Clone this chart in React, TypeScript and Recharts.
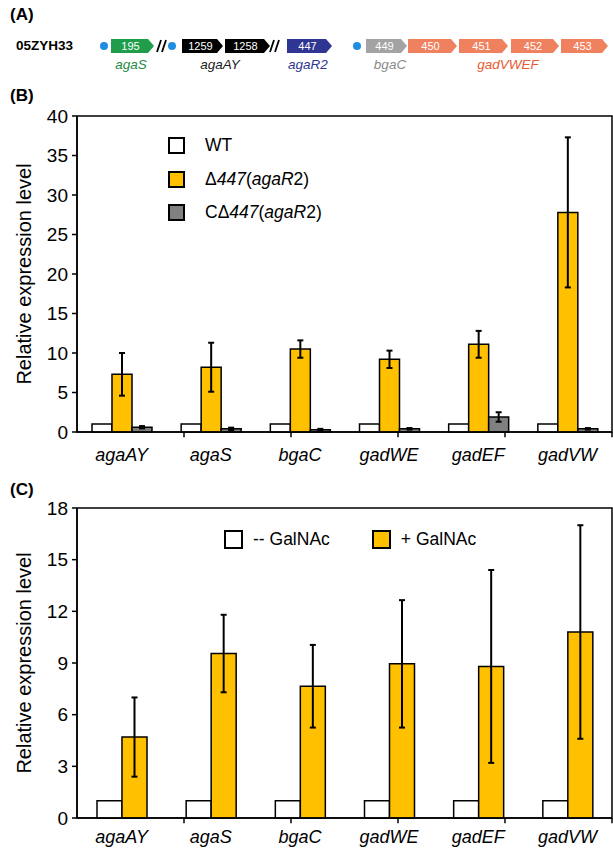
import React from 'react'
import {
  BarChart,
  Bar,
  ComposedChart,
  Scatter,
  XAxis,
  YAxis,
  ErrorBar,
  Legend,
  Label,
  ReferenceArea,
  ReferenceDot,
  ReferenceLine,
} from 'recharts'

// Figure: agaR2 deletion / GalNAc induction, qRT-PCR. Flat Excel-like look.

const FONT = '"Liberation Sans", Arial, sans-serif'
const INK = '#000000'
const WHITE = '#ffffff'
const GOLD = '#ffc000'
const GREY = '#808080'

// (A) gene map, positions along the drawn locus
const genes = ['195', '1259', '1258', '447', '449', '450', '451', '452', '453']
const geneStart = [111, 182, 225, 287, 366, 408, 459, 511, 561]
const geneEnd = [154, 223, 270, 332, 407, 457, 508, 559, 608]
const geneGroup = [0, 1, 1, 2, 3, 4, 4, 4, 4]
const groupNames = ['agaS', 'agaAY', 'agaR2', 'bgaC', 'gadVWEF']
const groupMid = [131, 220, 308, 390, 508]
const promoters = [104, 172, 357]
const breaks = [162, 275]

const groupFill = ['#1f9d4b', '#000000', '#2e3592', '#a3a3a3', '#f0815f']
const groupText = ['#238a3f', '#1a1a1a', '#2e3592', '#8a8a8a', '#e85a32']

// (B) WT vs deletion vs complemented
const genesB = ['agaAY', 'agaS', 'bgaC', 'gadWE', 'gadEF', 'gadVW']
const wtB = [1, 1, 1, 1, 1, 1]
const mutB = [7.3, 8.2, 10.5, 9.2, 11.1, 27.8]
const mutErrB = [2.7, 3.1, 1.1, 1.1, 1.7, 9.5]
const compB = [0.6, 0.4, 0.3, 0.4, 1.9, 0.4]
const compErrB = [0.15, 0.15, 0.1, 0.1, 0.6, 0.1]
const ticksB = [0, 5, 10, 15, 20, 25, 30, 35, 40]

// (C) -/+ GalNAc
const genesC = ['agaAY', 'agaS', 'bgaC', 'gadWE', 'gadEF', 'gadVW']
const minusC = [1, 1, 1, 1, 1, 1]
const plusC = [4.7, 9.55, 7.65, 8.95, 8.8, 10.8]
const plusErrC = [2.3, 2.25, 2.4, 3.7, 5.6, 6.2]
const ticksC = [0, 3, 6, 9, 12, 15, 18]

const seriesOrder = ['wt', 'mut', 'comp', 'minus', 'plus']

const legendText: Record<string, React.ReactNode> = {
  'Δ447(agaR2)': (
    <>
      Δ<i>447</i>(<i>agaR</i>2)
    </>
  ),
  'CΔ447(agaR2)': (
    <>
      CΔ<i>447</i>(<i>agaR</i>2)
    </>
  ),
}

const axisLine = { stroke: INK, strokeWidth: 1.5 }

function GeneArrow(props: any) {
  const { x, y, width, height, fill } = props
  const tip = 6
  const d = `M${x},${y} H${x + width - tip} L${x + width},${y + height / 2} L${x + width - tip},${y + height} H${x} Z`
  return <path d={d} fill={fill} stroke="none" />
}

function BreakMark({ cx, cy }: any) {
  return (
    <g stroke={INK} strokeWidth={1.8}>
      <line x1={cx - 5} y1={cy + 6} x2={cx - 1} y2={cy - 6} />
      <line x1={cx} y1={cy + 6} x2={cx + 4} y2={cy - 6} />
    </g>
  )
}

function GeneMap() {
  const promoterData = promoters.map((x) => ({ x, y: 6 }))
  return (
    <ComposedChart width={613} height={50} margin={{ top: 0, right: 0, bottom: 0, left: 0 }}>
      <XAxis type="number" dataKey="x" domain={[0, 613]} allowDataOverflow hide />
      <YAxis type="number" dataKey="y" domain={[0, 10]} allowDataOverflow hide />
      {genes.map((g, i) => (
        <ReferenceArea
          key={g}
          x1={geneStart[i]}
          x2={geneEnd[i]}
          y1={4.6}
          y2={7.4}
          fill={groupFill[geneGroup[i]]}
          fillOpacity={1}
          ifOverflow="visible"
          shape={GeneArrow}
          label={{ value: g, position: 'center', fill: '#ffffff', fontSize: 11, dx: -2 }}
        />
      ))}
      <Scatter
        data={promoterData}
        fill="#1e8fe0"
        isAnimationActive={false}
        shape={(p: any) => <circle cx={p.cx} cy={p.cy} r={4} fill="#1e8fe0" />}
      />
      {breaks.map((b) => (
        <ReferenceDot key={b} x={b} y={6} r={0} ifOverflow="visible" shape={BreakMark} />
      ))}
      {groupNames.map((name, i) => (
        <ReferenceDot
          key={name}
          x={groupMid[i]}
          y={2.4}
          r={0}
          ifOverflow="visible"
          shape={(p: any) => (
            <text
              x={p.cx}
              y={p.cy}
              textAnchor="middle"
              dominantBaseline="central"
              fontSize={13.5}
              fontStyle="italic"
              fill={groupText[i]}
            >
              {name}
            </text>
          )}
        />
      ))}
    </ComposedChart>
  )
}

function CategoryTick({ x, y, payload }: any) {
  return (
    <text x={x} y={y} dy="0.71em" textAnchor="middle" fontSize={18} fontStyle="italic" fill={INK}>
      {payload.value}
    </text>
  )
}

// short tick marks at category boundaries, on a hidden 0..n axis
function boundaryTicks(n: number, len: number) {
  return Array.from({ length: n - 1 }, (_, i) => (
    <ReferenceLine
      key={`edge-${i}`}
      xAxisId="edge"
      segment={[
        { x: i + 1, y: 0 },
        { x: i + 1, y: -len },
      ]}
      stroke={INK}
      strokeWidth={1.5}
      ifOverflow="visible"
    />
  ))
}

function YTitle({ viewBox }: any) {
  const cx = viewBox.x + 24
  const cy = viewBox.y + viewBox.height / 2
  return (
    <text
      x={cx}
      y={cy}
      transform={`rotate(-90 ${cx} ${cy})`}
      textAnchor="middle"
      dominantBaseline="central"
      fontSize={20}
      fill={INK}
    >
      Relative expression level
    </text>
  )
}

function BoxLegend({ payload, row, vertical, box, gapText, gapItem }: any) {
  const items = [...(payload || [])].sort(
    (a: any, b: any) => seriesOrder.indexOf(a.dataKey) - seriesOrder.indexOf(b.dataKey),
  )
  return (
    <div style={{ display: 'flex', flexDirection: vertical ? 'column' : 'row', fontSize: 17.5, color: INK }}>
      {items.map((e: any) => (
        <div
          key={e.value}
          style={{ display: 'flex', alignItems: 'center', height: row, marginRight: vertical ? 0 : gapItem, whiteSpace: 'nowrap' }}
        >
          <span
            style={{
              width: box,
              height: box,
              boxSizing: 'border-box',
              border: `2px solid ${INK}`,
              background: e.color,
              marginRight: gapText,
            }}
          />
          <span>{legendText[e.value] ?? e.value}</span>
        </div>
      ))}
    </div>
  )
}

function DeletionChart() {
  const data = genesB.map((gene, i) => ({
    gene,
    wt: wtB[i],
    mut: mutB[i],
    mutErr: mutErrB[i],
    comp: compB[i],
    compErr: compErrB[i],
  }))
  return (
    <BarChart
      width={613}
      height={372}
      data={data}
      margin={{ top: 16, right: 1, bottom: 0, left: 0 }}
      barSize={20}
      barGap={0}
    >
      <XAxis
        dataKey="gene"
        interval={0}
        tickLine={false}
        tickSize={5}
        tickMargin={11}
        height={40}
        axisLine={axisLine}
        tick={<CategoryTick />}
      />
      <XAxis xAxisId="edge" type="number" domain={[0, genesB.length]} allowDataOverflow hide />
      <YAxis
        domain={[0, 40]}
        ticks={ticksB}
        interval={0}
        width={77}
        tickSize={5}
        tickMargin={4}
        tick={{ fontSize: 19, fill: INK }}
        tickLine={axisLine}
        axisLine={axisLine}
      >
        <Label content={YTitle} />
      </YAxis>
      <ReferenceArea y1={0} y2={40} fill="none" stroke={INK} strokeWidth={1.5} ifOverflow="visible" />
      {boundaryTicks(genesB.length, 0.65)}
      <Legend
        layout="vertical"
        align="center"
        verticalAlign="middle"
        wrapperStyle={{ left: 168, top: 29, width: 'auto' }}
        content={<BoxLegend row={33.5} vertical box={17} gapText={20} />}
      />
      <Bar dataKey="wt" name="WT" fill={WHITE} stroke={INK} strokeWidth={1.5} isAnimationActive={false} />
      <Bar dataKey="mut" name="Δ447(agaR2)" fill={GOLD} stroke={INK} strokeWidth={1.5} isAnimationActive={false}>
        <ErrorBar dataKey="mutErr" width={3} strokeWidth={2} stroke={INK} />
      </Bar>
      <Bar dataKey="comp" name="CΔ447(agaR2)" fill={GREY} stroke={INK} strokeWidth={1.5} isAnimationActive={false}>
        <ErrorBar dataKey="compErr" width={3} strokeWidth={2} stroke={INK} />
      </Bar>
    </BarChart>
  )
}

function GalNAcChart() {
  const data = genesC.map((gene, i) => ({
    gene,
    minus: minusC[i],
    plus: plusC[i],
    plusErr: plusErrC[i],
  }))
  return (
    <BarChart
      width={613}
      height={368}
      data={data}
      margin={{ top: 28, right: 1, bottom: 0, left: 0 }}
      barSize={25}
      barGap={0}
    >
      <XAxis
        dataKey="gene"
        interval={0}
        tickLine={false}
        tickSize={5}
        tickMargin={7}
        height={30}
        axisLine={axisLine}
        tick={<CategoryTick />}
      />
      <XAxis xAxisId="edge" type="number" domain={[0, genesC.length]} allowDataOverflow hide />
      <YAxis
        domain={[0, 18]}
        ticks={ticksC}
        interval={0}
        width={77}
        tickSize={5}
        tickMargin={4}
        tick={{ fontSize: 19, fill: INK }}
        tickLine={axisLine}
        axisLine={axisLine}
      >
        <Label content={YTitle} />
      </YAxis>
      <ReferenceArea y1={0} y2={18} fill="none" stroke={INK} strokeWidth={1.5} ifOverflow="visible" />
      {boundaryTicks(genesC.length, 0.3)}
      <Legend
        layout="vertical"
        align="center"
        verticalAlign="middle"
        wrapperStyle={{ left: 224, top: 49, width: 'auto' }}
        content={<BoxLegend row={20} box={19} gapText={10} gapItem={42} />}
      />
      <Bar dataKey="minus" name="-- GalNAc" fill={WHITE} stroke={INK} strokeWidth={1.5} isAnimationActive={false} />
      <Bar dataKey="plus" name="+ GalNAc" fill={GOLD} stroke={INK} strokeWidth={1.5} isAnimationActive={false}>
        <ErrorBar dataKey="plusErr" width={3} strokeWidth={2} stroke={INK} />
      </Bar>
    </BarChart>
  )
}

const panelLabel: React.CSSProperties = {
  position: 'absolute',
  left: 10,
  fontSize: 17,
  fontWeight: 'bold',
  lineHeight: '17px',
}

export default function App() {
  return (
    <div
      style={{
        position: 'absolute',
        left: 0,
        top: 0,
        width: 613,
        height: 849,
        background: '#fff',
        fontFamily: FONT,
        color: INK,
        overflow: 'hidden',
      }}
    >
      <div style={{ ...panelLabel, top: 6 }}>(A)</div>
      <div style={{ position: 'absolute', left: 16, top: 39, fontSize: 13.5, fontWeight: 'bold', lineHeight: '14px' }}>
        05ZYH33
      </div>
      <div style={{ position: 'absolute', left: 0, top: 26 }}>
        <GeneMap />
      </div>

      <div style={{ ...panelLabel, top: 87 }}>(B)</div>
      <div style={{ position: 'absolute', left: 0, top: 100 }}>
        <DeletionChart />
      </div>

      <div style={{ ...panelLabel, top: 481 }}>(C)</div>
      <div style={{ position: 'absolute', left: 0, top: 480 }}>
        <GalNAcChart />
      </div>
    </div>
  )
}
